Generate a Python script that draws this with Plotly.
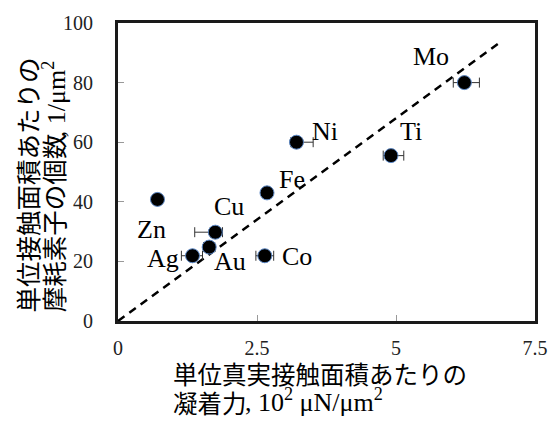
import plotly.graph_objects as go

# Adhesion force per unit real contact area (10^2 uN/um^2) vs. number of wear elements per unit area (1/um^2)
metals = ["Mo", "Ni", "Ti", "Fe", "Zn", "Cu", "Au", "Ag", "Co"]
adhesion = [6.23, 3.21, 4.91, 2.68, 0.71, 1.75, 1.64, 1.34, 2.64]
wear_count = [80, 60, 55.5, 43, 40.8, 29.8, 24.8, 21.9, 21.9]
err_plus = [0.27, 0.30, 0.23, 0.0, 0.0, 0.13, 0.10, 0.18, 0.16]
err_minus = [0.20, 0.10, 0.14, 0.0, 0.0, 0.37, 0.10, 0.20, 0.16]

# Trend line through the origin
trend_x = [0, 6.85]
trend_y = [0, 93.2]

x_ticks = [0, 2.5, 5, 7.5]
y_ticks = [0, 20, 40, 60, 80, 100]

# label offsets in pixels (dx, dy) for each metal name
label_offsets = {
    "Mo": (-33, 26), "Ni": (29, 11), "Ti": (20, 24), "Fe": (25, 13),
    "Zn": (-6, -30), "Cu": (14, 26), "Au": (21, -14), "Ag": (-30, -3),
    "Co": (32, -1),
}

CJK = "Noto Sans CJK JP"
SERIF = "Liberation Serif"

fig = go.Figure()

fig.add_trace(go.Scatter(
    x=trend_x, y=trend_y, mode="lines",
    line=dict(color="black", width=2.5, dash="8px,6px"),
    hoverinfo="skip", showlegend=False,
))

fig.add_trace(go.Scatter(
    x=adhesion, y=wear_count, mode="markers",
    marker=dict(size=14, color="black", line=dict(color="#5b87c5", width=1)),
    error_x=dict(type="data", symmetric=False, array=err_plus, arrayminus=err_minus,
                 color="#333333", thickness=1, width=5),
    showlegend=False,
))

annotations = []
for name, xv, yv in zip(metals, adhesion, wear_count):
    dx, dy = label_offsets[name]
    annotations.append(dict(
        x=xv, y=yv, xref="x", yref="y", text=name, showarrow=False,
        xshift=dx, yshift=dy, font=dict(family=SERIF, size=26, color="black"),
    ))


def title_part(text, x, y, family, size, xanchor="left", yanchor="middle", angle=0):
    return dict(
        xref="paper", yref="paper", x=x, y=y, xanchor=xanchor, yanchor=yanchor,
        text=text, showarrow=False, textangle=angle, borderpad=0,
        font=dict(family=family, size=size, color="black"),
    )


# x-axis title: two left-aligned lines, Japanese in gothic, units in serif
annotations.append(title_part("単位真実接触面積あたりの", 0.1286, -0.176, CJK, 24.5))
annotations.append(title_part("凝着力", 0.1286, -0.272, CJK, 24.5))
annotations.append(title_part(", 10<sup>2</sup> μN/μm<sup>2</sup>", 0.302, -0.268, SERIF, 26))

# y-axis title: two rotated lines anchored near the bottom of the plot
annotations.append(title_part("単位接触面積あたりの", -0.219, 0.026, CJK, 25.5,
                              xanchor="center", yanchor="bottom", angle=-90))
annotations.append(title_part("摩耗素子の個数", -0.157, 0.026, CJK, 25.5,
                              xanchor="center", yanchor="bottom", angle=-90))
annotations.append(title_part(", 1/μm<sup>2</sup>", -0.152, 0.612, SERIF, 26,
                              xanchor="center", yanchor="bottom", angle=-90))

axis_common = dict(
    showline=True, mirror=True, linecolor="#1a1a1a", linewidth=3,
    ticks="inside", ticklen=6, tickcolor="#999999", tickwidth=1,
    showgrid=False, zeroline=False,
    tickfont=dict(family=SERIF, size=20, color="#222222"),
)

fig.update_layout(
    width=560, height=429,
    margin=dict(l=118, r=22, t=17, b=108),
    paper_bgcolor="white", plot_bgcolor="white",
    xaxis=dict(range=[0, 7.5], tickvals=x_ticks, ticktext=[f"{v:g}" for v in x_ticks],
               ticklabelstandoff=7, **axis_common),
    yaxis=dict(range=[0, 100], tickvals=y_ticks, ticklabelstandoff=18, **axis_common),
    annotations=annotations,
)

fig.write_html("out.html")
